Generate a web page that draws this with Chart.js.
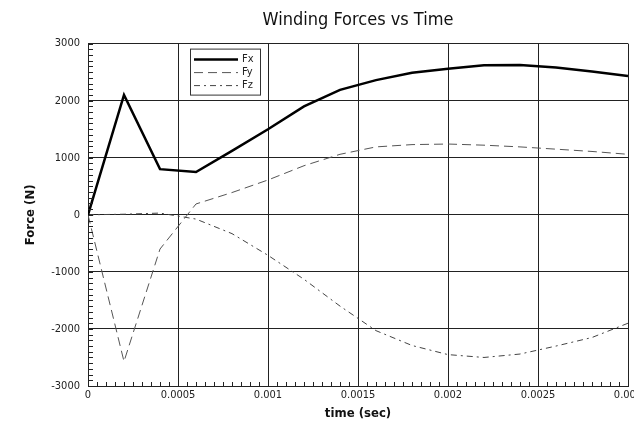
<!DOCTYPE html>
<html>
<head>
<meta charset="utf-8">
<script src="https://cdn.jsdelivr.net/npm/chart.js@4.4.0/dist/chart.umd.min.js"></script>
<style>
  html, body { margin: 0; padding: 0; background: #fff; }
  #wrap { width: 634px; height: 426px; }
</style>
</head>
<body>
<div id="wrap"><canvas id="forceChart" width="634" height="426"></canvas></div>
<script>
// time in seconds
const times = [0, 0.0002, 0.0004, 0.0006, 0.0008, 0.001, 0.0012, 0.0014, 0.0016, 0.0018, 0.002, 0.0022, 0.0024, 0.0026, 0.0028, 0.003];
const fx = [0, 2100, 800, 750, 1120, 1500, 1900, 2190, 2360, 2490, 2560, 2620, 2625, 2580, 2510, 2430];
const fy = [0, -2570, -600, 190, 390, 610, 860, 1060, 1190, 1230, 1240, 1220, 1190, 1150, 1110, 1060];
const fz = [0, 10, 30, -75, -330, -710, -1130, -1600, -2030, -2290, -2450, -2500, -2440, -2300, -2150, -1900];

const xTicks = [0, 0.0005, 0.001, 0.0015, 0.002, 0.0025, 0.003];
const yTicks = [-3000, -2000, -1000, 0, 1000, 2000, 3000];

const FONT = "'Liberation Sans Narrow', 'DejaVu Sans Condensed', 'Liberation Sans', sans-serif";

function pts(vals) {
    return times.map((t, i) => ({ x: t, y: vals[i] }));
}

// little minor ticks along the left and bottom edges, inside the plot
const minorTicks = {
    id: 'minorTicks',
    afterDraw(chart) {
        const c = chart.ctx, xs = chart.scales.x, ys = chart.scales.y, a = chart.chartArea;
        c.save();
        c.strokeStyle = '#222';
        c.lineWidth = 1;
        c.beginPath();
        for (let i = 0; i <= 60; i++) {
            const px = Math.round(xs.getPixelForValue(i * 0.00005)) + 0.5;
            c.moveTo(px, a.bottom);
            c.lineTo(px, a.bottom - 4);
        }
        for (let v = -3000; v <= 3000; v += 100) {
            const py = Math.round(ys.getPixelForValue(v)) + 0.5;
            c.moveTo(a.left, py);
            c.lineTo(a.left + 5, py);
        }
        c.stroke();
        c.restore();
    }
};

// boxed legend sitting inside the plot
const boxLegend = {
    id: 'boxLegend',
    afterDatasetsDraw(chart) {
        const c = chart.ctx, a = chart.chartArea;
        const bx = a.left + 102, by = a.top + 5, bw = 70, bh = 46;
        c.save();
        c.fillStyle = '#fff';
        c.fillRect(bx, by, bw, bh);
        c.strokeStyle = '#333';
        c.lineWidth = 1;
        c.strokeRect(bx + 0.5, by + 0.5, bw, bh);
        c.font = '11px ' + FONT;
        c.textBaseline = 'middle';
        chart.data.datasets.forEach((ds, i) => {
            const ly = by + 11 + i * 13;
            c.beginPath();
            c.strokeStyle = ds.borderColor;
            c.lineWidth = ds.borderWidth;
            c.setLineDash(ds.borderDash || []);
            c.moveTo(bx + 4, ly);
            c.lineTo(bx + 48, ly);
            c.stroke();
            c.setLineDash([]);
            c.fillStyle = '#222';
            c.fillText(ds.label, bx + 52, ly);
        });
        c.restore();
    }
};

const ctx = document.getElementById('forceChart').getContext('2d');
const chart = new Chart(ctx, {
    type: 'line',
    plugins: [minorTicks, boxLegend],
    data: {
        datasets: [
            {
                label: 'Fx',
                data: pts(fx),
                borderColor: '#000',
                borderWidth: 2.5,
                pointRadius: 0,
                tension: 0
            },
            {
                label: 'Fy',
                data: pts(fy),
                borderColor: '#555',
                borderWidth: 1,
                borderDash: [9, 5],
                pointRadius: 0,
                tension: 0
            },
            {
                label: 'Fz',
                data: pts(fz),
                borderColor: '#444',
                borderWidth: 1,
                borderDash: [6, 4, 2, 4],
                pointRadius: 0,
                tension: 0
            }
        ]
    },
    options: {
        responsive: false,
        animation: false,
        layout: { padding: { left: 12, right: 6, top: 10, bottom: 0 } },
        plugins: {
            legend: { display: false },
            tooltip: { enabled: false },
            title: {
                display: true,
                text: 'Winding Forces vs Time',
                fullSize: false,
                color: '#111',
                font: { family: FONT, size: 18, weight: 'normal' },
                padding: { top: 0, bottom: 12 }
            }
        },
        scales: {
            x: {
                type: 'linear',
                min: 0,
                max: 0.003,
                afterBuildTicks(scale) {
                    scale.ticks = xTicks.map(v => ({ value: v }));
                },
                afterFit(scale) {
                    scale.height = 426 - 386;
                    scale.paddingLeft = 0;
                    scale.paddingRight = 0;
                },
                ticks: {
                    color: '#222',
                    padding: 3,
                    maxRotation: 0,
                    font: { family: FONT, size: 11 },
                    callback: v => String(v)
                },
                grid: { color: '#222', drawTicks: false },
                border: { color: '#222' },
                title: {
                    display: true,
                    text: 'time (sec)',
                    color: '#111',
                    font: { family: FONT, size: 13, weight: 'bold' },
                    padding: { top: 0, bottom: 5 }
                }
            },
            y: {
                min: -3000,
                max: 3000,
                afterBuildTicks(scale) {
                    scale.ticks = yTicks.map(v => ({ value: v }));
                },
                afterFit(scale) {
                    scale.width = 88 - 12;
                    scale.paddingTop = 0;
                    scale.paddingBottom = 0;
                },
                ticks: {
                    color: '#222',
                    padding: 8,
                    font: { family: FONT, size: 11 },
                    callback: v => String(v)
                },
                grid: { color: '#222', drawTicks: false },
                border: { color: '#222' },
                title: {
                    display: true,
                    text: 'Force (N)',
                    color: '#111',
                    font: { family: FONT, size: 13, weight: 'bold' },
                    padding: { top: 11, bottom: 0 }
                }
            }
        }
    }
});
</script>
</body>
</html>
